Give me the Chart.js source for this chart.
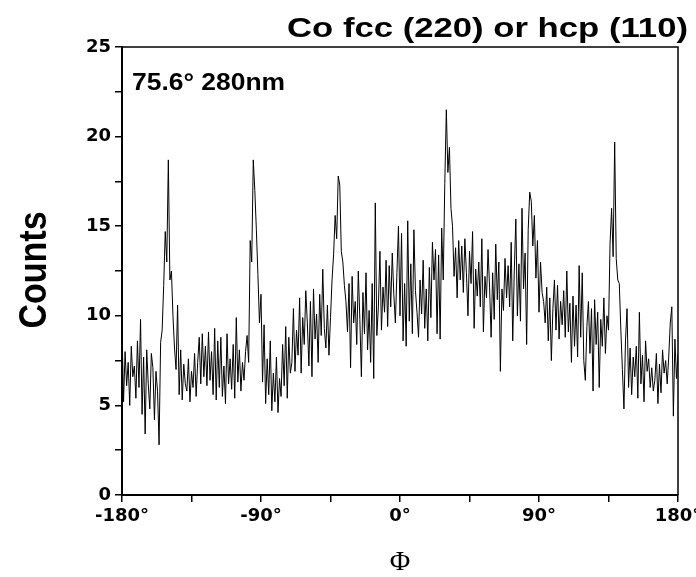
<!DOCTYPE html>
<html>
<head>
<meta charset="utf-8">
<script src="https://cdn.jsdelivr.net/npm/chart.js@4.4.1/dist/chart.umd.min.js"></script>
<style>
  html, body { margin: 0; padding: 0; background: #fff; }
  #wrap { width: 696px; height: 577px; }
</style>
</head>
<body>
<div id="wrap"><canvas id="phiScan" width="696" height="577"></canvas></div>
<script>
// phi scan, one reading per degree from -180 to 180
var phiStart = -180;
var phiStep = 1;

var counts = [
    9.3, 5.2, 8.0, 6.1, 7.4, 5.0, 8.3, 6.6, 7.2, 5.4,      // -180
    8.6, 6.0, 9.8, 4.5, 7.7, 3.4, 8.1, 6.2, 4.8, 7.9,      // -170
    7.1, 4.2, 6.9, 5.8, 2.8, 8.5, 9.2, 11.7, 14.7, 13.0,   // -160
    18.7, 12.0, 12.5, 10.0, 8.2, 7.0, 10.6, 5.6, 8.1, 5.3, // -150
    7.3, 6.2, 5.8, 7.6, 5.2, 6.9, 6.0, 7.9, 5.5, 7.4,      // -140
    8.8, 6.2, 9.0, 6.6, 8.3, 6.1, 9.1, 6.4, 8.0, 5.6,      // -130
    9.3, 5.3, 8.6, 6.0, 8.8, 5.5, 7.2, 5.1, 9.0, 6.2,      // -120
    7.6, 5.9, 8.4, 5.4, 9.9, 6.3, 8.1, 5.8, 7.4, 6.4,      // -110
    8.0, 8.9, 7.4, 14.2, 13.0, 18.7, 17.0, 14.8, 12.3, 9.6,// -100
    11.2, 6.3, 9.5, 5.1, 7.6, 5.6, 8.6, 4.7, 6.8, 5.2,     // -90
    7.7, 4.6, 6.5, 5.5, 8.4, 6.1, 9.4, 5.4, 8.8, 6.8,      // -80
    7.4, 10.4, 6.9, 9.2, 7.8, 11.0, 6.8, 9.9, 8.4, 11.4,   // -70
    9.6, 7.2, 10.8, 6.6, 11.5, 8.7, 10.1, 7.4, 11.2, 8.9,  // -60
    12.6, 9.3, 8.2, 10.6, 7.8, 9.9, 12.0, 13.4, 15.6, 14.3,// -50
    17.8, 17.3, 13.6, 13.0, 11.7, 10.8, 9.1, 11.8, 7.1, 12.2, // -40
    9.6, 10.8, 8.4, 12.5, 9.8, 6.6, 11.3, 9.0, 12.4, 8.1,  // -30
    10.3, 7.4, 11.8, 6.5, 16.3, 8.9, 10.5, 13.6, 9.2, 11.6,// -20
    10.2, 13.1, 9.4, 12.8, 10.5, 13.5, 11.2, 9.6, 12.4, 15.0, // -10
    10.0, 14.6, 8.6, 11.8, 8.3, 15.3, 9.7, 12.9, 9.0, 14.8,// 0
    11.4, 10.2, 8.8, 12.0, 10.1, 13.1, 9.3, 11.5, 8.6, 12.7, // 10
    9.9, 14.1, 12.0, 13.7, 9.0, 13.4, 8.7, 14.9, 12.0, 17.4, // 20
    21.5, 18.0, 19.4, 16.0, 15.0, 12.2, 13.8, 11.0, 14.2, 12.0, // 30
    13.9, 11.3, 14.3, 12.4, 10.0, 13.6, 11.8, 14.7, 9.3, 12.6, // 40
    11.1, 13.0, 10.5, 14.3, 9.1, 12.2, 11.0, 13.7, 11.6, 8.8, // 50
    12.4, 9.8, 14.0, 10.9, 13.0, 6.9, 11.5, 10.3, 13.2, 11.0, // 60
    12.8, 10.5, 14.1, 8.6, 12.5, 15.4, 10.0, 12.9, 9.7, 16.0, // 70
    11.5, 13.5, 8.4, 14.8, 16.9, 16.4, 13.9, 15.6, 12.1, 14.2, // 80
    10.2, 13.0, 11.3, 10.8, 9.6, 11.6, 8.6, 11.0, 7.5, 10.4, // 90
    12.0, 9.2, 11.7, 8.7, 10.8, 9.5, 11.4, 8.8, 12.5, 9.1,  // 100
    10.7, 7.4, 11.1, 8.3, 10.6, 7.7, 12.8, 8.8, 12.4, 7.5,  // 110
    6.4, 9.4, 10.8, 7.9, 10.4, 5.8, 10.9, 8.4, 10.2, 6.0,   // 120
    9.8, 8.3, 11.0, 7.9, 10.0, 9.2, 14.0, 16.0, 13.3, 19.7, // 130
    13.2, 12.0, 11.8, 9.2, 7.0, 4.8, 8.6, 10.4, 6.0, 8.2,   // 140
    5.6, 7.7, 6.6, 8.3, 5.4, 10.2, 6.2, 7.8, 5.2, 8.6,      // 150
    6.9, 7.6, 6.0, 7.1, 5.8, 6.4, 7.9, 5.1, 7.3, 5.7,       // 160
    8.1, 6.8, 7.5, 6.2, 7.7, 9.6, 10.5, 4.4, 8.7, 6.5,      // 170
    7.9                                                     // 180
];

var xTicks = [-180, -90, 0, 90, 180];
var yTicks = [0, 5, 10, 15, 20, 25];

var titleText = 'Co fcc (220) or hcp (110)';
var sampleText = '75.6\u00b0 280nm';
var yTitle = 'Counts';
var xTitle = '\u03a6';

var points = [];
for (var i = 0; i < counts.length; i++) {
    points.push({x: phiStart + i * phiStep, y: counts[i]});
}

// draw text squeezed/stretched to a given width, left edge at x
function fitText(ctx, txt, x, y, w) {
    var k = w / ctx.measureText(txt).width;
    ctx.save();
    ctx.translate(x, y);
    ctx.scale(k, 1);
    ctx.textAlign = 'left';
    ctx.fillText(txt, 0, 0);
    ctx.restore();
}

var textPlugin = {
    id: 'texts',
    afterDraw: function(chart) {
        var ctx = chart.ctx, a = chart.chartArea;
        ctx.save();
        // box on top and right
        ctx.strokeStyle = '#000';
        ctx.lineWidth = 1.5;
        ctx.beginPath();
        ctx.moveTo(a.left, a.top);
        ctx.lineTo(a.right, a.top);
        ctx.lineTo(a.right, a.bottom);
        ctx.stroke();

        ctx.fillStyle = '#000';
        ctx.textBaseline = 'alphabetic';
        ctx.font = 'bold 28px "Liberation Sans", Arial, sans-serif';
        fitText(ctx, titleText, 287, 37, 401);

        ctx.font = 'bold 24px "Liberation Sans", Arial, sans-serif';
        fitText(ctx, sampleText, 132, 90, 153);

        ctx.font = 'bold 34px "Liberation Sans", Arial, sans-serif';
        ctx.textAlign = 'center';
        ctx.textBaseline = 'middle';
        ctx.translate(35, 270);
        ctx.rotate(-Math.PI / 2);
        ctx.scale(1, 1.15);
        ctx.fillText(yTitle, 0, 0);
        ctx.restore();

        ctx.save();
        ctx.fillStyle = '#000';
        ctx.font = '28px "Liberation Serif", "Times New Roman", serif';
        ctx.textAlign = 'center';
        ctx.textBaseline = 'middle';
        ctx.fillText(xTitle, 400, 563);
        ctx.restore();
    }
};

var tickFont = { family: '"DejaVu Sans", sans-serif', size: 18, weight: 'bold' };

var phiChart = new Chart(document.getElementById('phiScan'), {
    type: 'line',
    data: {
        datasets: [{
            data: points,
            borderColor: '#000',
            borderWidth: 1,
            pointRadius: 0,
            tension: 0,
            fill: false
        }]
    },
    options: {
        responsive: false,
        animation: false,
        devicePixelRatio: 1,
        layout: { padding: { left: 0, right: 18, top: 47, bottom: 0 } },
        plugins: { legend: { display: false }, tooltip: { enabled: false } },
        scales: {
            x: {
                type: 'linear',
                min: -180,
                max: 180,
                afterFit: function(s) { s.height = 82; s.paddingLeft = 0; s.paddingRight = 0; },
                afterBuildTicks: function(s) {
                    var t = [];
                    for (var v = -180; v <= 180; v += 45) t.push({value: v});
                    s.ticks = t;
                },
                ticks: {
                    autoSkip: false,
                    maxRotation: 0,
                    padding: 4,
                    color: '#000',
                    font: tickFont,
                    callback: function(v) { return xTicks.indexOf(v) >= 0 ? v + '\u00b0' : ''; }
                },
                grid: { drawOnChartArea: false, drawTicks: true, tickLength: 7, color: '#000', lineWidth: 1.5 },
                border: { display: true, color: '#000', width: 2 }
            },
            y: {
                min: 0,
                max: 25,
                afterFit: function(s) { s.width = 122; s.paddingTop = 0; s.paddingBottom = 0; },
                afterBuildTicks: function(s) {
                    var t = [];
                    for (var v = 0; v <= 25; v += 2.5) t.push({value: v});
                    s.ticks = t;
                },
                ticks: {
                    autoSkip: false,
                    padding: 4,
                    color: '#000',
                    font: tickFont,
                    callback: function(v) { return yTicks.indexOf(v) >= 0 ? String(v) : ''; }
                },
                grid: { drawOnChartArea: false, drawTicks: true, tickLength: 7, color: '#000', lineWidth: 1.5 },
                border: { display: true, color: '#000', width: 2 }
            }
        }
    },
    plugins: [textPlugin]
});
</script>
</body>
</html>
